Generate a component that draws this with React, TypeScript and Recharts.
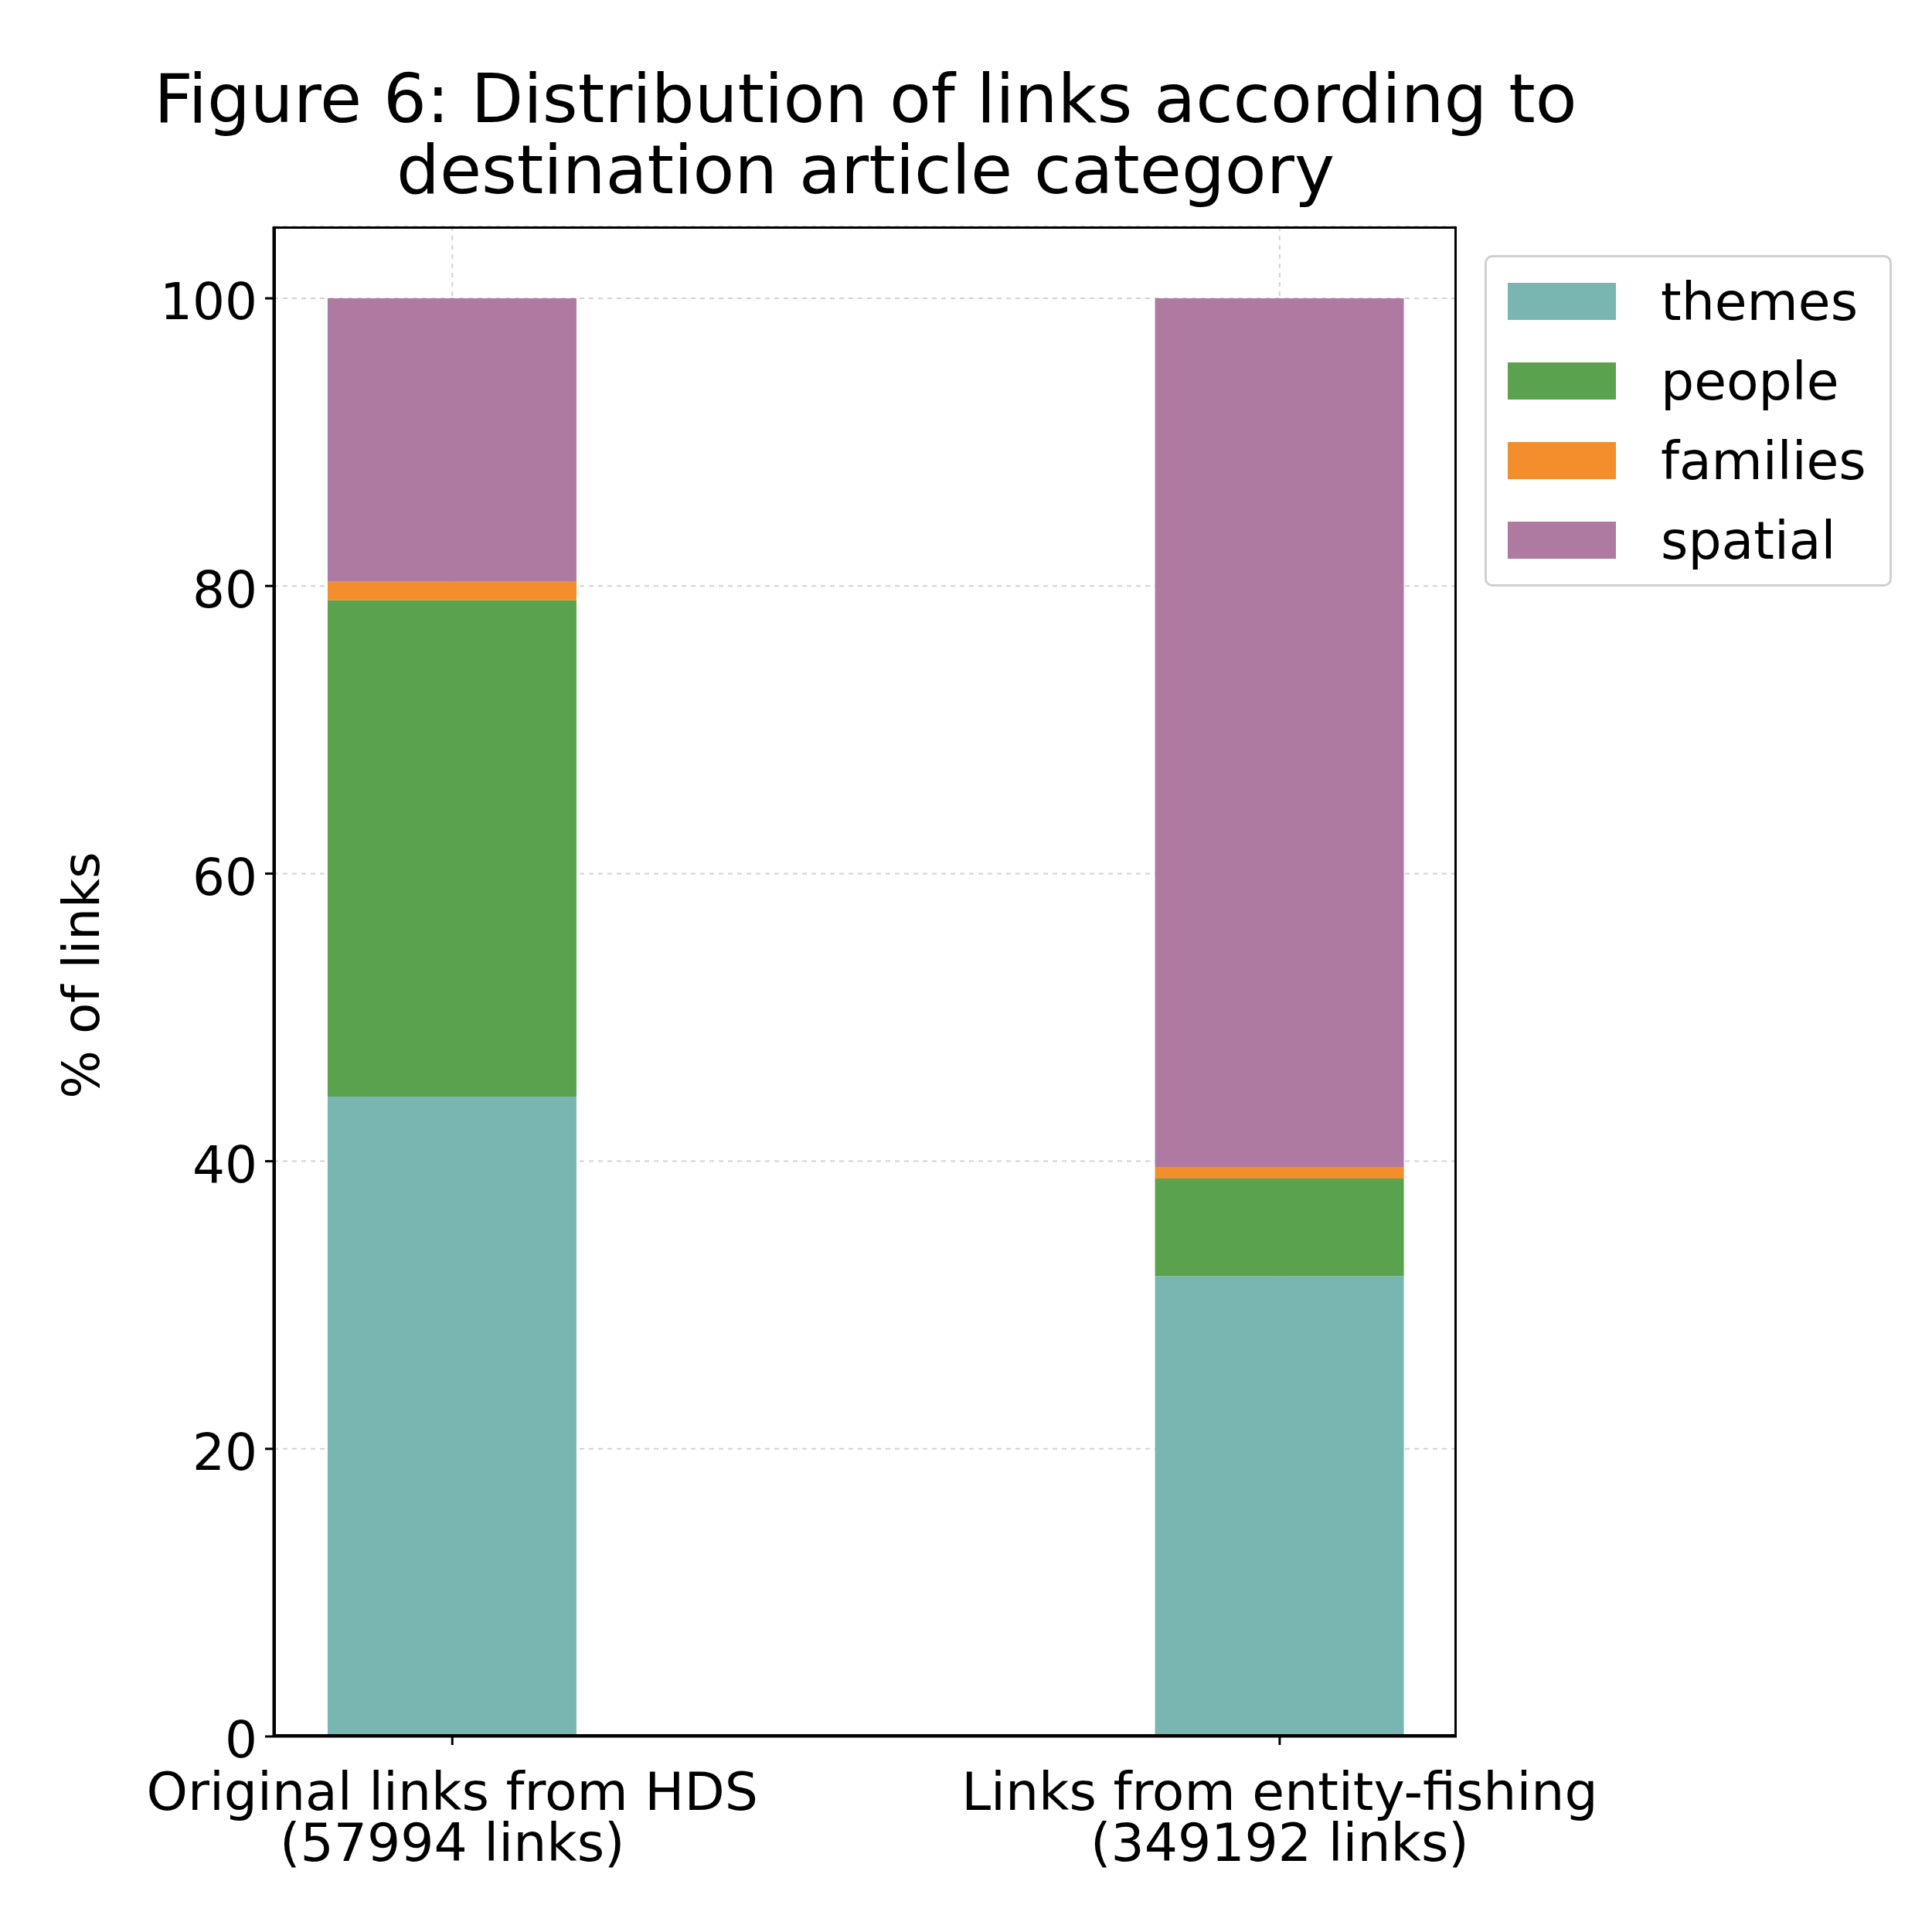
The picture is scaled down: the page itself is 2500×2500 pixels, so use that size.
import { BarChart, Bar, XAxis, YAxis, CartesianGrid } from 'recharts'

const categories = ['Original links from HDS|(57994 links)', 'Links from entity-fishing|(349192 links)']
const themes = [44.5, 32.0]
const people = [34.5, 6.8]
const families = [1.3, 0.8]
const spatial = [19.7, 60.4]
const yTicks = [0, 20, 40, 60, 80, 100]

const SERIES = [
  { key: 'themes', color: '#7ab6b1' },
  { key: 'people', color: '#5ba24f' },
  { key: 'families', color: '#f28e2b' },
  { key: 'spatial', color: '#af7aa1' },
]

const data = categories.map((c, i) => ({
  x: i, label: c, themes: themes[i], people: people[i], families: families[i], spatial: spatial[i],
}))

const FONT = 'DejaVu Sans'

function XTick({ x, y, payload }: any) {
  const lines = categories[payload.value].split('|')
  return (
    <text x={x} y={y + 82} textAnchor="middle" fontSize={68} fontFamily={FONT} fill="#000">
      {lines.map((l, i) => <tspan key={i} x={x} dy={i === 0 ? 0 : 66}>{l}</tspan>)}
    </text>
  )
}

export default function App() {
  return (
    <div style={{ position: 'absolute', left: 0, top: 0, width: 2500, height: 2500, background: '#fff', fontFamily: FONT }}>
      <BarChart width={2500} height={2500} data={data} margin={{ top: 293, right: 615, bottom: 223, left: 254 }}>
        <CartesianGrid stroke="#d3d3d3" strokeDasharray="6 6" strokeWidth={2} verticalValues={[0, 1]} />
        <XAxis dataKey="x" type="number" domain={[-0.216, 1.214]} ticks={[0, 1]} tick={<XTick />}
          tickSize={11} interval={0} allowDataOverflow stroke="#000" strokeWidth={3} tickLine={{ stroke: '#000', strokeWidth: 3 }} />
        <YAxis domain={[0, 105]} ticks={yTicks} tickSize={11} stroke="#000" strokeWidth={3} width={100}
          tick={{ fontSize: 66, fontFamily: FONT, fill: '#000', dx: -8, dy: 4 }} tickLine={{ stroke: '#000', strokeWidth: 3 }} />
        {SERIES.map(s => (
          <Bar key={s.key} dataKey={s.key} stackId="a" fill={s.color} barSize={322} isAnimationActive={false} />
        ))}
      </BarChart>
      <div style={{ position: 'absolute', left: 354, top: 293, width: 1531, height: 1954, border: '3px solid #000', boxSizing: 'border-box', pointerEvents: 'none' }} />
      <div style={{ position: 'absolute', left: 0, width: 2240, top: 82, textAlign: 'center', fontSize: 88, lineHeight: '92px', color: '#000', whiteSpace: 'nowrap' }}>
        Figure 6: Distribution of links according to<br />destination article category
      </div>
      <div style={{ position: 'absolute', left: 105, top: 1262, transform: 'translate(-50%,-50%) rotate(-90deg)', fontSize: 66, whiteSpace: 'nowrap' }}>
        % of links
      </div>
      <div style={{ position: 'absolute', left: 1921, top: 330, width: 527, height: 429, border: '3px solid #d0d0d0', borderRadius: 10, boxSizing: 'border-box' }}>
        {SERIES.map((s, i) => (
          <div key={s.key} style={{ position: 'absolute', left: 27, top: 33 + i * 103, display: 'flex', alignItems: 'center', height: 48 }}>
            <div style={{ width: 140, height: 48, background: s.color }} />
            <span style={{ marginLeft: 58, fontSize: 68 }}>{s.key}</span>
          </div>
        ))}
      </div>
    </div>
  )
}
